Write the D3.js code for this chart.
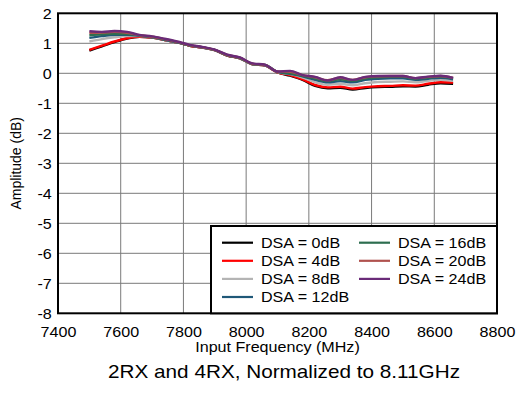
<!DOCTYPE html>
<html><head><meta charset="utf-8">
<script src="https://cdn.jsdelivr.net/npm/d3@7"></script>
<style>body{margin:0;background:#fff}svg{display:block;font-family:Arial,"Liberation Sans",sans-serif}</style>
</head><body>
<svg id="c" width="517" height="394"></svg>
<script>
const freq = [7500,7540,7580,7620,7660,7700,7740,7780,7820,7860,7900,7940,7980,8020,8060,8100,8140,8180,8220,8260,8300,8340,8380,8420,8460,8500,8540,8580,8620,8660];
const dsa0  = [0.76,0.90,1.04,1.16,1.22,1.19,1.11,1.03,0.92,0.86,0.77,0.59,0.50,0.30,0.26,0.03,-0.08,-0.22,-0.42,-0.50,-0.48,-0.54,-0.49,-0.46,-0.45,-0.43,-0.44,-0.38,-0.33,-0.35];
const dsa4  = [0.78,0.92,1.06,1.17,1.22,1.19,1.11,1.03,0.92,0.86,0.77,0.59,0.50,0.30,0.26,0.03,-0.06,-0.20,-0.39,-0.47,-0.45,-0.51,-0.46,-0.43,-0.42,-0.40,-0.41,-0.35,-0.30,-0.31];
const dsa8  = [1.06,1.14,1.20,1.24,1.24,1.20,1.12,1.03,0.93,0.86,0.77,0.60,0.50,0.30,0.27,0.04,-0.03,-0.14,-0.30,-0.38,-0.35,-0.40,-0.33,-0.29,-0.28,-0.27,-0.30,-0.25,-0.22,-0.25];
const dsa12 = [1.18,1.24,1.28,1.28,1.25,1.20,1.12,1.03,0.93,0.86,0.77,0.60,0.51,0.31,0.27,0.05,-0.02,-0.10,-0.22,-0.30,-0.26,-0.30,-0.22,-0.18,-0.17,-0.17,-0.22,-0.18,-0.15,-0.20];
const dsa16 = [1.27,1.30,1.32,1.31,1.26,1.21,1.13,1.04,0.93,0.87,0.78,0.60,0.51,0.31,0.28,0.05,0.00,-0.08,-0.17,-0.26,-0.20,-0.25,-0.17,-0.13,-0.12,-0.12,-0.18,-0.14,-0.11,-0.17];
const dsa20 = [1.35,1.36,1.38,1.35,1.27,1.22,1.14,1.05,0.94,0.87,0.78,0.61,0.52,0.32,0.28,0.06,0.05,-0.06,-0.13,-0.23,-0.15,-0.22,-0.13,-0.10,-0.09,-0.09,-0.16,-0.12,-0.09,-0.15];
const dsa24 = [1.40,1.38,1.41,1.38,1.28,1.23,1.15,1.06,0.95,0.88,0.79,0.62,0.53,0.33,0.29,0.06,0.08,-0.06,-0.12,-0.24,-0.13,-0.22,-0.12,-0.09,-0.09,-0.09,-0.16,-0.11,-0.08,-0.15];
const seriesNames = ["DSA = 0dB","DSA = 4dB","DSA = 8dB","DSA = 12dB","DSA = 16dB","DSA = 20dB","DSA = 24dB"];
const seriesValues = [dsa0,dsa4,dsa8,dsa12,dsa16,dsa20,dsa24];
const seriesColors = ["#000000","#ff0000","#b4b4b4","#1f5878","#2e6e50","#b0524e","#6a2b78"];
const xTicks = [7400,7600,7800,8000,8200,8400,8600,8800];
const yTicks = [2,1,0,-1,-2,-3,-4,-5,-6,-7,-8];

const SX = 1.15;
const svg = d3.select("#c");
const L=58, R=497, T=13.3, B=313.3;
const x = d3.scaleLinear().domain([7400,8800]).range([L,R]);
const y = d3.scaleLinear().domain([-8,2]).range([B,T]);

// grid
svg.append("g").selectAll("line").data(xTicks.slice(1,-1)).join("line")
  .attr("x1",d=>x(d)).attr("x2",d=>x(d)).attr("y1",T).attr("y2",B)
  .attr("stroke","#7a7a7a").attr("stroke-width",1);
svg.append("g").selectAll("line").data(yTicks.slice(1,-1)).join("line")
  .attr("x1",L).attr("x2",R).attr("y1",d=>y(d)).attr("y2",d=>y(d))
  .attr("stroke","#7a7a7a").attr("stroke-width",1);

// lines
const line = d3.line().x((d,i)=>x(freq[i])).y(d=>y(d)).curve(d3.curveMonotoneX);
seriesValues.forEach((vals,k)=>{
  svg.append("path").datum(vals).attr("d",line).attr("fill","none")
    .attr("stroke",seriesColors[k]).attr("stroke-width",2.4).attr("stroke-linejoin","round");
});

// axes
const fmt = d => String(d);
const xa = svg.append("g").attr("transform",`translate(0,${B})`)
  .call(d3.axisBottom(x).tickValues(xTicks).tickSize(0).tickPadding(14).tickFormat(fmt));
xa.select(".domain").remove();
xa.selectAll("text").attr("font-size",14).attr("font-family","Arial, 'Liberation Sans', sans-serif")
  .attr("fill","#000").attr("transform",`scale(${SX},1)`).attr("dy","0.71em").attr("y",13.5);
const ya = svg.append("g").attr("transform",`translate(${L},0)`)
  .call(d3.axisLeft(y).tickValues(yTicks).tickSize(0).tickPadding(0).tickFormat(fmt));
ya.select(".domain").remove();
ya.selectAll("text").attr("font-size",14).attr("font-family","Arial, 'Liberation Sans', sans-serif")
  .attr("fill","#000").attr("x",-6.3/SX).attr("dy","0.35em").attr("transform",`scale(${SX},1)`);

// frame
svg.append("rect").attr("x",L).attr("y",T).attr("width",R-L).attr("height",B-T)
  .attr("fill","none").attr("stroke","#000").attr("stroke-width",2);

// legend
const lg = svg.append("g");
lg.append("rect").attr("x",211).attr("y",226).attr("width",R-211).attr("height",B-226)
  .attr("fill","#fff").attr("stroke","#000").attr("stroke-width",2);
seriesNames.forEach((n,k)=>{
  const col = k<4?0:1, row = k<4?k:k-4;
  const lx = col===0?222:359, ly = 242.7+row*18.1;
  lg.append("line").attr("x1",lx).attr("x2",lx+31).attr("y1",ly).attr("y2",ly)
    .attr("stroke",seriesColors[k]).attr("stroke-width",2.2);
  lg.append("text").attr("transform",`translate(${lx+39},${ly+5}) scale(${SX},1)`)
    .attr("font-size",14).text(n);
});

// titles
svg.append("text").attr("transform",`translate(${(L+R)/2},352) scale(${SX},1)`)
  .attr("text-anchor","middle").attr("font-size",14).text("Input Frequency (MHz)");
svg.append("text").attr("transform",`translate(21,${(T+B)/2}) rotate(-90)`)
  .attr("text-anchor","middle").attr("font-size",14).text("Amplitude (dB)");
svg.append("text").attr("transform",`translate(284,377.5) scale(${SX*1.03},1)`)
  .attr("text-anchor","middle").attr("font-size",17.5).text("2RX and 4RX, Normalized to 8.11GHz");
</script>
</body></html>
